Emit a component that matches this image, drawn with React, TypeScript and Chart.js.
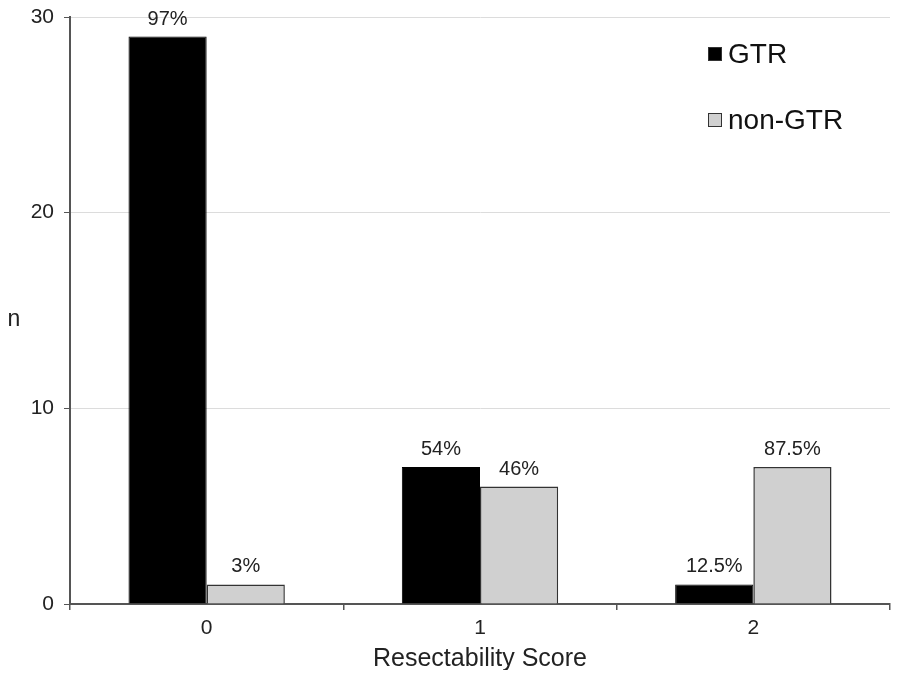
import React, { useEffect, useRef } from "react";
import { Chart, registerables } from "chart.js";
Chart.register(...registerables);

const categories = ["0", "1", "2"];
const gtrValues = [29, 7, 1];
const nonGtrValues = [1, 6, 7];
const gtrLabels = ["97%", "54%", "12.5%"];
const nonGtrLabels = ["3%", "46%", "87.5%"];
const seriesNames = ["GTR", "non-GTR"];
const yAxisTitle = "n";
const xAxisTitle = "Resectability Score";

const FONT = "'Liberation Sans', Arial, Helvetica, sans-serif";
const GTR_COLOR = "#000000";
const NON_COLOR = "#d0d0d0";
const BORDER_DARK = "#333333";

const barLabelsPlugin = {
  id: "barLabels",
  afterDatasetsDraw(chart: any) {
    const ctx = chart.ctx;
    const all = [gtrLabels, nonGtrLabels];
    ctx.save();
    ctx.font = `20px ${FONT}`;
    ctx.fillStyle = "#222";
    ctx.textAlign = "center";
    ctx.textBaseline = "alphabetic";
    chart.data.datasets.forEach((ds: any, di: number) => {
      const meta = chart.getDatasetMeta(di);
      meta.data.forEach((el: any, i: number) => {
        ctx.fillText(all[di][i], el.x, el.y - 12);
      });
    });
    ctx.restore();
  },
};

const extrasPlugin = {
  id: "extras",
  afterDraw(chart: any) {
    const ctx = chart.ctx;
    const area = chart.chartArea;
    ctx.save();
    ctx.font = `23px ${FONT}`;
    ctx.fillStyle = "#222";
    ctx.textAlign = "center";
    ctx.textBaseline = "middle";
    ctx.fillText(yAxisTitle, 6, (area.top + area.bottom) / 2 + 9);
    const lx = 700;
    const ys = [46, 112];
    chart.data.datasets.forEach((ds: any, i: number) => {
      const y = ys[i];
      ctx.fillStyle = ds.backgroundColor;
      ctx.fillRect(lx, y - 7, 14, 14);
      ctx.lineWidth = 1;
      ctx.strokeStyle = BORDER_DARK;
      ctx.strokeRect(lx + 0.5, y - 6.5, 13, 13);
      ctx.fillStyle = "#111";
      ctx.font = `28px ${FONT}`;
      ctx.textAlign = "left";
      ctx.textBaseline = "middle";
      ctx.fillText(ds.label, lx + 20, y + 1);
    });
    ctx.restore();
  },
};

export default function App() {
  const ref = useRef<HTMLCanvasElement | null>(null);
  useEffect(() => {
    if (!ref.current) return;
    const chart = new Chart(ref.current, {
      type: "bar",
      data: {
        labels: categories,
        datasets: [
          {
            label: seriesNames[0],
            data: gtrValues,
            backgroundColor: GTR_COLOR,
            borderColor: GTR_COLOR,
            borderWidth: 1,
          },
          {
            label: seriesNames[1],
            data: nonGtrValues,
            backgroundColor: NON_COLOR,
            borderColor: BORDER_DARK,
            borderWidth: 1.5,
          },
        ],
      },
      options: {
        animation: false,
        responsive: false,
        maintainAspectRatio: false,
        datasets: { bar: { categoryPercentage: 0.572, barPercentage: 1 } },
        layout: { padding: { top: 0, right: 2, left: 0, bottom: 0 } },
        plugins: {
          legend: { display: false },
          tooltip: { enabled: false },
        },
        scales: {
          x: {
            afterFit(scale: any) {
              scale.height = 66;
            },
            grid: {
              display: true,
              drawOnChartArea: false,
              offset: true,
              tickLength: 6,
              tickColor: "#555",
              lineWidth: 1.5,
            },
            border: { color: "#555", width: 2 },
            ticks: {
              color: "#222",
              font: { family: FONT, size: 21 },
              padding: 6,
            },
            title: {
              display: true,
              text: xAxisTitle,
              color: "#222",
              font: { family: FONT, size: 25 },
              padding: { top: -4, bottom: -4 },
            },
          },
          y: {
            min: 0,
            max: 30,
            afterFit(scale: any) {
              scale.width = 62;
              scale.paddingTop = 9;
            },
            ticks: {
              stepSize: 10,
              color: "#222",
              font: { family: FONT, size: 21 },
              padding: 10,
            },
            grid: {
              color: "#dcdcdc",
              lineWidth: 1,
              tickLength: 6,
              tickColor: "#555",
            },
            border: { color: "#555", width: 2 },
          },
        },
      },
      plugins: [barLabelsPlugin, extrasPlugin],
    });
    return () => chart.destroy();
  }, []);
  return (
    <div style={{ width: 884, height: 662 }}>
      <canvas ref={ref} width={884} height={662} style={{ display: "block" }} />
    </div>
  );
}
